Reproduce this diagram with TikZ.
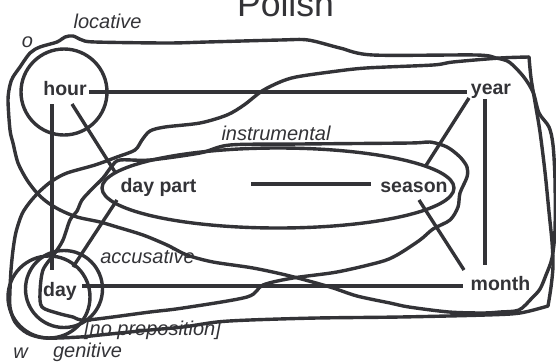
\documentclass[tikz,border=0pt]{standalone}
\usepackage{fontspec}
\setmainfont{Liberation Sans}
\usetikzlibrary{calc}

\definecolor{ink}{RGB}{51,51,55}

\begin{document}
\begin{tikzpicture}[x=1pt,y=-1pt,
  term/.style={font=\fontsize{19.5}{22}\selectfont\bfseries, text=ink, inner sep=1.5pt, anchor=base},
  case/.style={font=\fontsize{20}{24}\selectfont\itshape, text=ink, inner sep=0pt, anchor=base},
  heading/.style={font=\fontsize{35.6}{40}\selectfont, text=ink, inner sep=0pt, anchor=base},
  link/.style={draw=ink, line width=3.4pt},
  maploop/.style={draw=ink, line width=3.4pt, line join=round, line cap=round}]

\useasboundingbox (0,0) rectangle (556,362);

% title
\node[heading] (title) at (285.5,16) {Polish};

% meanings
\node[term] (hour)    at (65,95)    {hour};
\node[term] (year)    at (491,94)   {year};
\node[term] (daypart) at (158.5,192) {day part};
\node[term] (season)  at (414,192)  {season};
\node[term] (month)   at (500.5,290) {month};
\node[term] (day)     at (60,296)   {day};

% case and preposition labels
\node[case] (lbllocative) at (107.5,28) {locative};
\node[case] (lblo)        at (27.5,47)  {o};
\node[case] (lblinstr)    at (276,140)  {instrumental};
\node[case] (lblacc)      at (147.5,263) {accusative};
\node[case] (lblnoprep)   at (152.5,335) {[no preposition]};
\node[case] (lblgen)      at (87.5,357) {genitive};
\node[case] (lblw)        at (20.5,358) {w};

% connections of the semantic map
\draw[link] ([shift={(24,-3)}]hour.base) -- ([shift={(-24,-2)}]year.base);
\draw[link] ([shift={(-13,9)}]hour.base) -- ([shift={(-8,-26)}]day.base);
\draw[link] ([shift={(7,9)}]hour.base) -- ([shift={(-43.5,-20)}]daypart.base);
\draw[link] ([shift={(-41.5,8)}]daypart.base) -- ([shift={(13,-29)}]day.base);
\draw[link] ([shift={(92.5,-8)}]daypart.base) -- ([shift={(-43,-8)}]season.base);
\draw[link] ([shift={(-22,4)}]year.base) -- ([shift={(11,-25)}]season.base);
\draw[link] ([shift={(5,8)}]season.base) -- ([shift={(-36.5,-20)}]month.base);
\draw[link] ([shift={(-6,5)}]year.base) -- ([shift={(-15.5,-25)}]month.base);
\draw[link] ([shift={(22,-10)}]day.base) -- ([shift={(-37.5,-4)}]month.base);

% o: hour
\draw[maploop] (64,92) circle[radius=43];

% instrumental: day part and season
\draw[maploop] (278,188) ellipse[x radius=176, y radius=40];

% circles round day
\draw[maploop] (64,289) circle[radius=38.5];
\draw[maploop] (49,297) circle[radius=41];

% locative
\draw[maploop] plot[smooth cycle, tension=0.5] coordinates {
  (40,47) (57,42) (65,37) (73,36) (82,40) (95,42) (167,43) (207,42)
  (280,40) (308,40) (340,48) (373,55) (476,55) (496,58) (509,62)
  (523,76) (533,92) (539,113) (549,127) (553,145) (555,180) (555,230)
  (552,258) (546,275) (540,289) (532,298) (519,310) (500,312) (483,313)
  (449,312) (409,307) (390,303) (357,296) (330,287) (290,276) (253,268)
  (213,262) (187,255) (167,245) (143,235) (117,227) (100,222) (77,217)
  (60,210) (47,202) (37,193) (27,180) (18,163) (13,143) (10,130)
  (8,100) (10,85) (13,77) (20,67) (30,53)};

% w: large loop with two sharp corners on the right
\draw[maploop] plot[smooth, tension=0.5] coordinates {
  (529,57) (531,78) (535,102) (540,132) (545,172) (549,212) (552,242)
  (553,266) (551,287) (548,306)};
\draw[maploop] plot[smooth, tension=0.5] coordinates {
  (548,306) (520,313) (486,315) (400,317) (317,318) (250,320) (217,322)
  (183,327) (150,330) (100,335) (80,337) (45,338) (27,333) (15,322)
  (10,307) (10,290) (11,270) (13,250) (16,232) (22,214) (30,202)
  (40,191) (52,181) (67,173) (95,165) (117,157) (135,150) (142,140)
  (150,131) (165,127) (200,123) (227,115) (244,105) (262,91) (280,82)
  (296,77) (330,72) (366,68) (433,65) (453,62) (500,58) (529,57)};

% accusative loop round day part, season and day
\draw[maploop] plot[smooth cycle, tension=0.5] coordinates {
  (120,160) (150,160) (200,153) (230,145) (300,144) (410,143) (430,142)
  (447,147) (460,157) (467,167) (467,177) (460,193) (458,207) (450,220)
  (433,229) (420,240) (397,255) (380,262) (337,272) (293,278) (263,285)
  (247,297) (183,308) (150,312) (87,320) (73,317) (57,313) (42,307)
  (40,293) (43,270) (55,253) (63,240) (70,220) (77,211) (82,200)
  (92,189) (103,178) (112,166)};

\end{tikzpicture}
\end{document}
